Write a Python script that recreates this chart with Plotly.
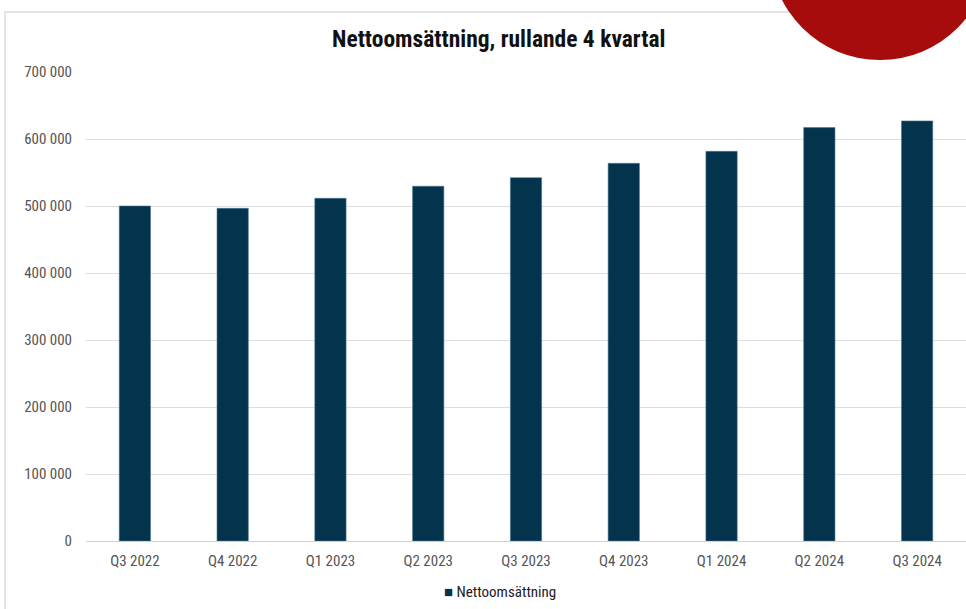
import plotly.graph_objects as go

categories = ["Q3 2022", "Q4 2022", "Q1 2023", "Q2 2023", "Q3 2023",
              "Q4 2023", "Q1 2024", "Q2 2024", "Q3 2024"]
nettoomsattning = [500000, 496500, 511500, 529500, 542300,
                   563700, 581600, 617000, 627000]
y_tickvals = [0, 100000, 200000, 300000, 400000, 500000, 600000, 700000]
y_ticktext = ["0", "100 000", "200 000", "300 000", "400 000",
              "500 000", "600 000", "700 000"]
series_name = "Nettoomsättning"
title_text = "Nettoomsättning, rullande 4 kvartal"

W, H = 966, 609
L, R, T, B = 86, 0, 72, 68
pw = W - L - R
ph = H - T - B

def px(x):
    return (x - L) / pw

def py(y):
    return (H - B - y) / ph

FONT = "Liberation Sans Narrow, Roboto Condensed, Arial Narrow, sans-serif"
BAR = "#03334d"

fig = go.Figure()
fig.add_trace(go.Bar(
    x=categories, y=nettoomsattning, name=series_name,
    marker=dict(color=BAR, line=dict(color="#4d7a93", width=0.6)),
    showlegend=False,
))

fig.update_layout(
    width=W, height=H,
    margin=dict(l=L, r=R, t=T, b=B, autoexpand=False),
    paper_bgcolor="white", plot_bgcolor="white",
    bargap=0.68,
    showlegend=False,
    xaxis=dict(showgrid=False, showline=False, ticks="", ticklabelstandoff=9,
               tickfont=dict(family=FONT, size=15, color="#555555")),
    yaxis=dict(range=[0, 700000], tickvals=y_tickvals, ticktext=y_ticktext,
               showgrid=True, gridcolor="#dedede", gridwidth=1,
               zeroline=True, zerolinecolor="#d0d0d0", zerolinewidth=1,
               showline=False, ticks="", ticklabelstandoff=13,
               tickfont=dict(family=FONT, size=15, color="#555555")),
    font=dict(family=FONT),
)

# panel border
fig.add_shape(type="rect", xref="paper", yref="paper",
              x0=px(5), x1=px(1000), y0=py(640), y1=py(12),
              line=dict(color="#dcdcdc", width=1.5), fillcolor="rgba(0,0,0,0)",
              layer="below")

# red circle decoration
fig.add_shape(type="circle", xref="paper", yref="paper",
              x0=px(880 - 110), x1=px(880 + 110), y0=py(-50 + 110), y1=py(-50 - 110),
              line=dict(width=0), fillcolor="#a60c0c", layer="above")

# title
fig.add_annotation(text="<b>" + title_text + "</b>",
                   xref="paper", yref="paper", x=px(498), y=py(39),
                   xanchor="center", yanchor="middle", showarrow=False,
                   font=dict(family=FONT, size=23.5, color="#111111"))

# legend (square key + name)
fig.add_annotation(text="<span style='color:" + BAR + "'>■</span> " + series_name,
                   xref="paper", yref="paper", x=px(442), y=py(592),
                   xanchor="left", yanchor="middle", showarrow=False,
                   font=dict(family=FONT, size=15, color="#222222"))

fig.write_html("out.html", config={"displayModeBar": False},
               post_script="document.body.style.margin='0';")
